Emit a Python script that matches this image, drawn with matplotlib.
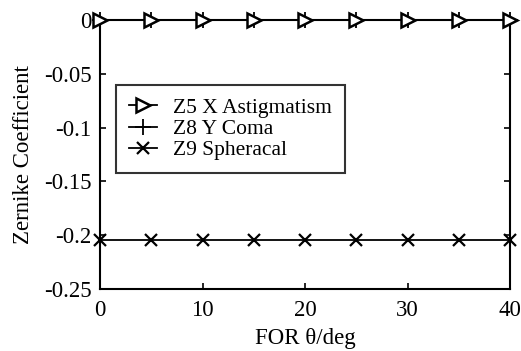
import numpy as np
import matplotlib.pyplot as plt

# FOR angle (deg) and Zernike coefficients
theta = [0, 5, 10, 15, 20, 25, 30, 35, 40]
z5_astig = [0, 0, 0, 0, 0, 0, 0, 0, 0]
z8_coma = [0, 0, 0, 0, 0, 0, 0, 0, 0]
z9_sph = [-0.2045, -0.2045, -0.2045, -0.2045, -0.2045, -0.2045, -0.2045, -0.2045, -0.2045]

plt.rcParams['font.family'] = ['Liberation Serif', 'DejaVu Serif']
plt.rcParams['mathtext.fontset'] = 'stix'

fig = plt.figure(figsize=(5.21, 3.51), dpi=100)
ax = fig.add_axes([100/521, 1-289/351, 410/521, 269/351])

ax.plot(theta, z5_astig, '->', color='black', lw=1.3, markersize=9.5, markerfacecolor='white',
        markeredgewidth=1.8, label='Z5 X Astigmatism', clip_on=False, zorder=4)
ax.plot(theta, z8_coma, '-+', color='black', lw=1.3, markersize=11, markeredgewidth=1.3,
        label='Z8 Y Coma', clip_on=False, zorder=3)
ax.plot(theta, z9_sph, '-x', color='black', lw=1.3, markersize=8, markeredgewidth=1.6,
        label='Z9 Spheracal', clip_on=False, zorder=3)

ax.set_xlim(0, 40)
ax.set_ylim(-0.25, 0)
ax.set_xticks([0, 10, 20, 30, 40])
ax.set_yticks([-0.25, -0.2, -0.15, -0.1, -0.05, 0])
ax.set_yticklabels(['-0.25', '-0.2', '-0.15', '-0.1', '-0.05', '0'])
ax.tick_params(direction='in', top=True, right=True, labelsize=16.5, length=4, width=1.2)
ax.tick_params(axis='x', pad=8)
ax.tick_params(axis='y', pad=6)
for s in ax.spines.values():
    s.set_linewidth(1.5)

ax.set_xlabel('FOR θ/deg', fontsize=16.5, labelpad=5)
ax.set_ylabel('Zernike Coefficient', fontsize=16.5, labelpad=7)

leg = ax.legend(loc='upper left', bbox_to_anchor=(16/410, 1-65/269), fontsize=15.5,
                frameon=True, fancybox=False, edgecolor='black', handlelength=1.3,
                handletextpad=0.75, borderpad=0.6, labelspacing=0.05, borderaxespad=0)
leg.get_frame().set_linewidth(1.5)

plt.savefig('out.png', dpi=100)
